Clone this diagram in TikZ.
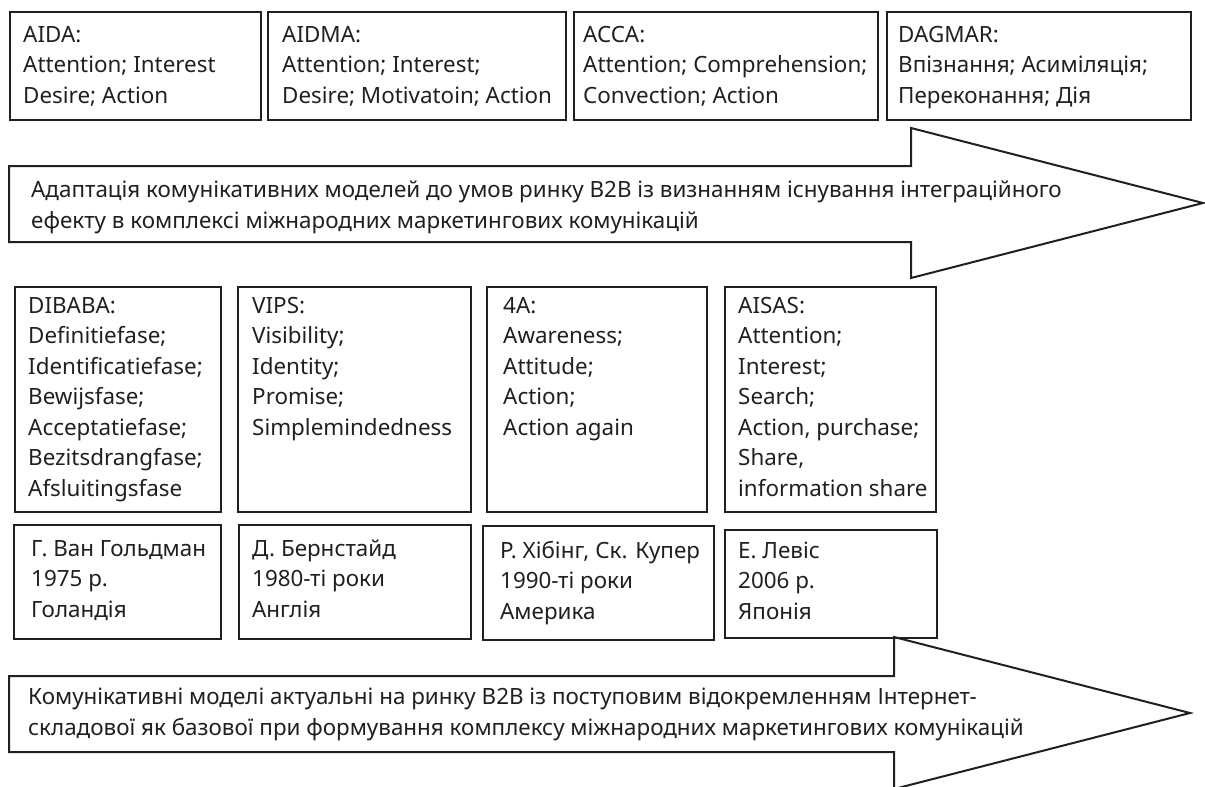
\documentclass[tikz,border=0pt]{standalone}
\usepackage{fontspec}
\setmainfont{Noto Sans}
\definecolor{ink}{HTML}{231F20}
\begin{document}
\begin{tikzpicture}[x=1pt,y=-1pt,
  box/.style={draw=ink, line width=2pt, rectangle, inner sep=0pt, anchor=north west},
  txt/.style={anchor=base west, inner sep=0pt, align=left, text=ink, font=\fontsize{22.4}{30.5}\selectfont},
  bigarrow/.style={draw=ink, line width=2pt, line join=miter}]
\useasboundingbox (0,0) rectangle (1205,787);
% top row (text nodes placed at the baseline of their last line)
\node[box, minimum width=251pt, minimum height=108pt] (aida) at (9,11) {};
\node[box, minimum width=298pt, minimum height=108pt] (aidma) at (267,11) {};
\node[box, minimum width=304pt, minimum height=108pt] (acca) at (573,11) {};
\node[box, minimum width=304pt, minimum height=108pt] (dagmar) at (886,11) {};
\node[txt] (taida) at (23,103) {AIDA:\\Attention; Interest\\Desire; Action};
\node[txt] (taidma) at (282,103) {AIDMA:\\Attention; Interest;\\Desire; Motivatoin; Action};
\node[txt] (tacca) at (583,103) {ACCA:\\Attention; Comprehension;\\Convection; Action};
\node[txt] (tdagmar) at (898,103) {DAGMAR:\\Впізнання; Асиміляція;\\Переконання; Дія};
% first arrow
\draw[bigarrow] (9,166) -- (911,166) -- (911,128) -- (1203,203) -- (911,278) -- (911,242) -- (9,242) -- cycle;
\node[txt] (arrow1) at (31,228) {Адаптація комунікативних моделей до умов ринку В2В із визнанням існування інтеграційного\\ефекту в комплексі міжнародних маркетингових комунікацій};
% middle row
\node[box, minimum width=206pt, minimum height=225pt] (dibaba) at (14,286) {};
\node[box, minimum width=233pt, minimum height=225pt] (vips) at (237,286) {};
\node[box, minimum width=220pt, minimum height=225pt] (foura) at (486,286) {};
\node[box, minimum width=211pt, minimum height=225pt] (aisas) at (724,286) {};
\node[txt] (tdibaba) at (28,496) {DIBABA:\\Definitiefase;\\Identificatiefase;\\Bewijsfase;\\Acceptatiefase;\\Bezitsdrangfase;\\Afsluitingsfase};
\node[txt] (tvips) at (252,435) {VIPS:\\Visibility;\\Identity;\\Promise;\\Simplemindedness};
\node[txt] (tfoura) at (503,435) {4A:\\Awareness;\\Attitude;\\Action;\\Action again};
\node[txt] (taisas) at (738,496) {AISAS:\\Attention;\\Interest;\\Search;\\Action, purchase;\\Share,\\information share};
% bottom row
\node[box, minimum width=207pt, minimum height=114pt] (goldman) at (13,524) {};
\node[box, minimum width=232pt, minimum height=114pt] (bernstein) at (238,524) {};
\node[box, minimum width=231pt, minimum height=114pt] (hibing) at (482,525) {};
\node[box, minimum width=212pt, minimum height=108pt] (lewis) at (724,529) {};
\node[txt] (tgoldman) at (31,617) {Г. Ван Гольдман\\1975 р.\\Голандія};
\node[txt] (tbernstein) at (252,617) {Д. Бернстайд\\1980-ті роки\\Англія};
\node[txt] (thibing) at (500,619) {Р. Хібінг, Ск. Купер\\1990-ті роки\\Америка};
\node[txt] (tlewis) at (738,619) {Е. Левіс\\2006 р.\\Японія};
% second arrow
\draw[bigarrow] (9,676) -- (894,676) -- (894,637) -- (1190,713) -- (894,789) -- (894,752) -- (9,752) -- cycle;
\node[txt] (arrow2) at (28,735) {Комунікативні моделі актуальні на ринку В2В із поступовим відокремленням Інтернет-\\складової як базової при формування комплексу міжнародних маркетингових комунікацій};
\end{tikzpicture}
\end{document}
